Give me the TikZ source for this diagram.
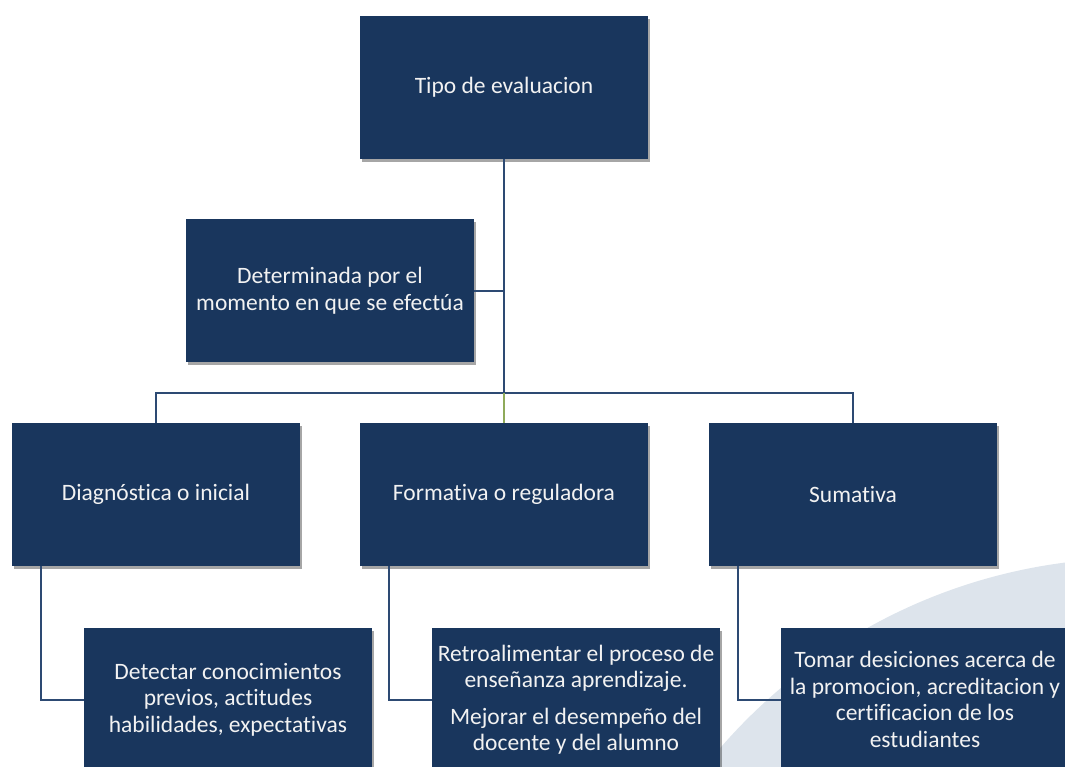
\documentclass[tikz,border=0pt]{standalone}
\usepackage{fontspec}
\setmainfont[Ligatures=CommonOff]{Carlito}
\usetikzlibrary{shadows}
\definecolor{boxblue}{RGB}{25,54,93}
\definecolor{linkblue}{RGB}{45,74,115}
\definecolor{linkgreen}{RGB}{143,170,90}
\definecolor{arcgray}{RGB}{221,228,236}
\definecolor{txt}{RGB}{242,242,242}
\tikzset{
  card/.style={fill=boxblue, draw=none, minimum width=288pt, minimum height=143pt,
    inner sep=2pt, text=txt, align=center, font=\fontsize{23.5}{26.5}\selectfont,
    drop shadow={shadow xshift=2pt, shadow yshift=-3pt, opacity=0.35, fill=black}},
  link/.style={draw=linkblue, line width=2pt},
  linkg/.style={draw=linkgreen, line width=2pt}
}
\begin{document}
\begin{tikzpicture}[x=1pt,y=-1pt]
\useasboundingbox (0,0) rectangle (1065,766);
\clip (0,0) rectangle (1065,766);
\fill[arcgray] (1136,1108) circle[radius=550];
% boxes
\node[card] (top) at (504,87) {Tipo de evaluacion};
\node[card] (det) at (330,290.5) {Determinada por el\\momento en que se efectúa};
\node[card] (diag) at (156,494.5) {Diagnóstica o inicial};
\node[card] (form) at (504,494.5) {Formativa o reguladora};
\node[card] (sum) at (853,494.5) {Sumativa};
% connectors
\coordinate (j) at (504,393);
\draw[link] (top.south) -- (j);
\draw[link] (det.east) -- (det.east -| top.south);
\draw[link] (diag.north) |- (j) -| (sum.north);
\draw[linkg] (j) -- (form.north);
% children
\node[card] (c1) at (228,699.5) {Detectar conocimientos\\previos, actitudes\\habilidades, expectativas};
\node[card] (c2) at (576,699.5) {Retroalimentar el proceso de\\enseñanza aprendizaje.\\[10pt]Mejorar el desempeño del\\docente y del alumno};
\node[card] (c3) at (925,699.5) {Tomar desiciones acerca de\\la promocion, acreditacion y\\certificacion de los\\estudiantes};
\draw[link] ([xshift=29pt]diag.south west) |- (c1.west);
\draw[link] ([xshift=29pt]form.south west) |- (c2.west);
\draw[link] ([xshift=29pt]sum.south west) |- (c3.west);
\end{tikzpicture}
\end{document}
